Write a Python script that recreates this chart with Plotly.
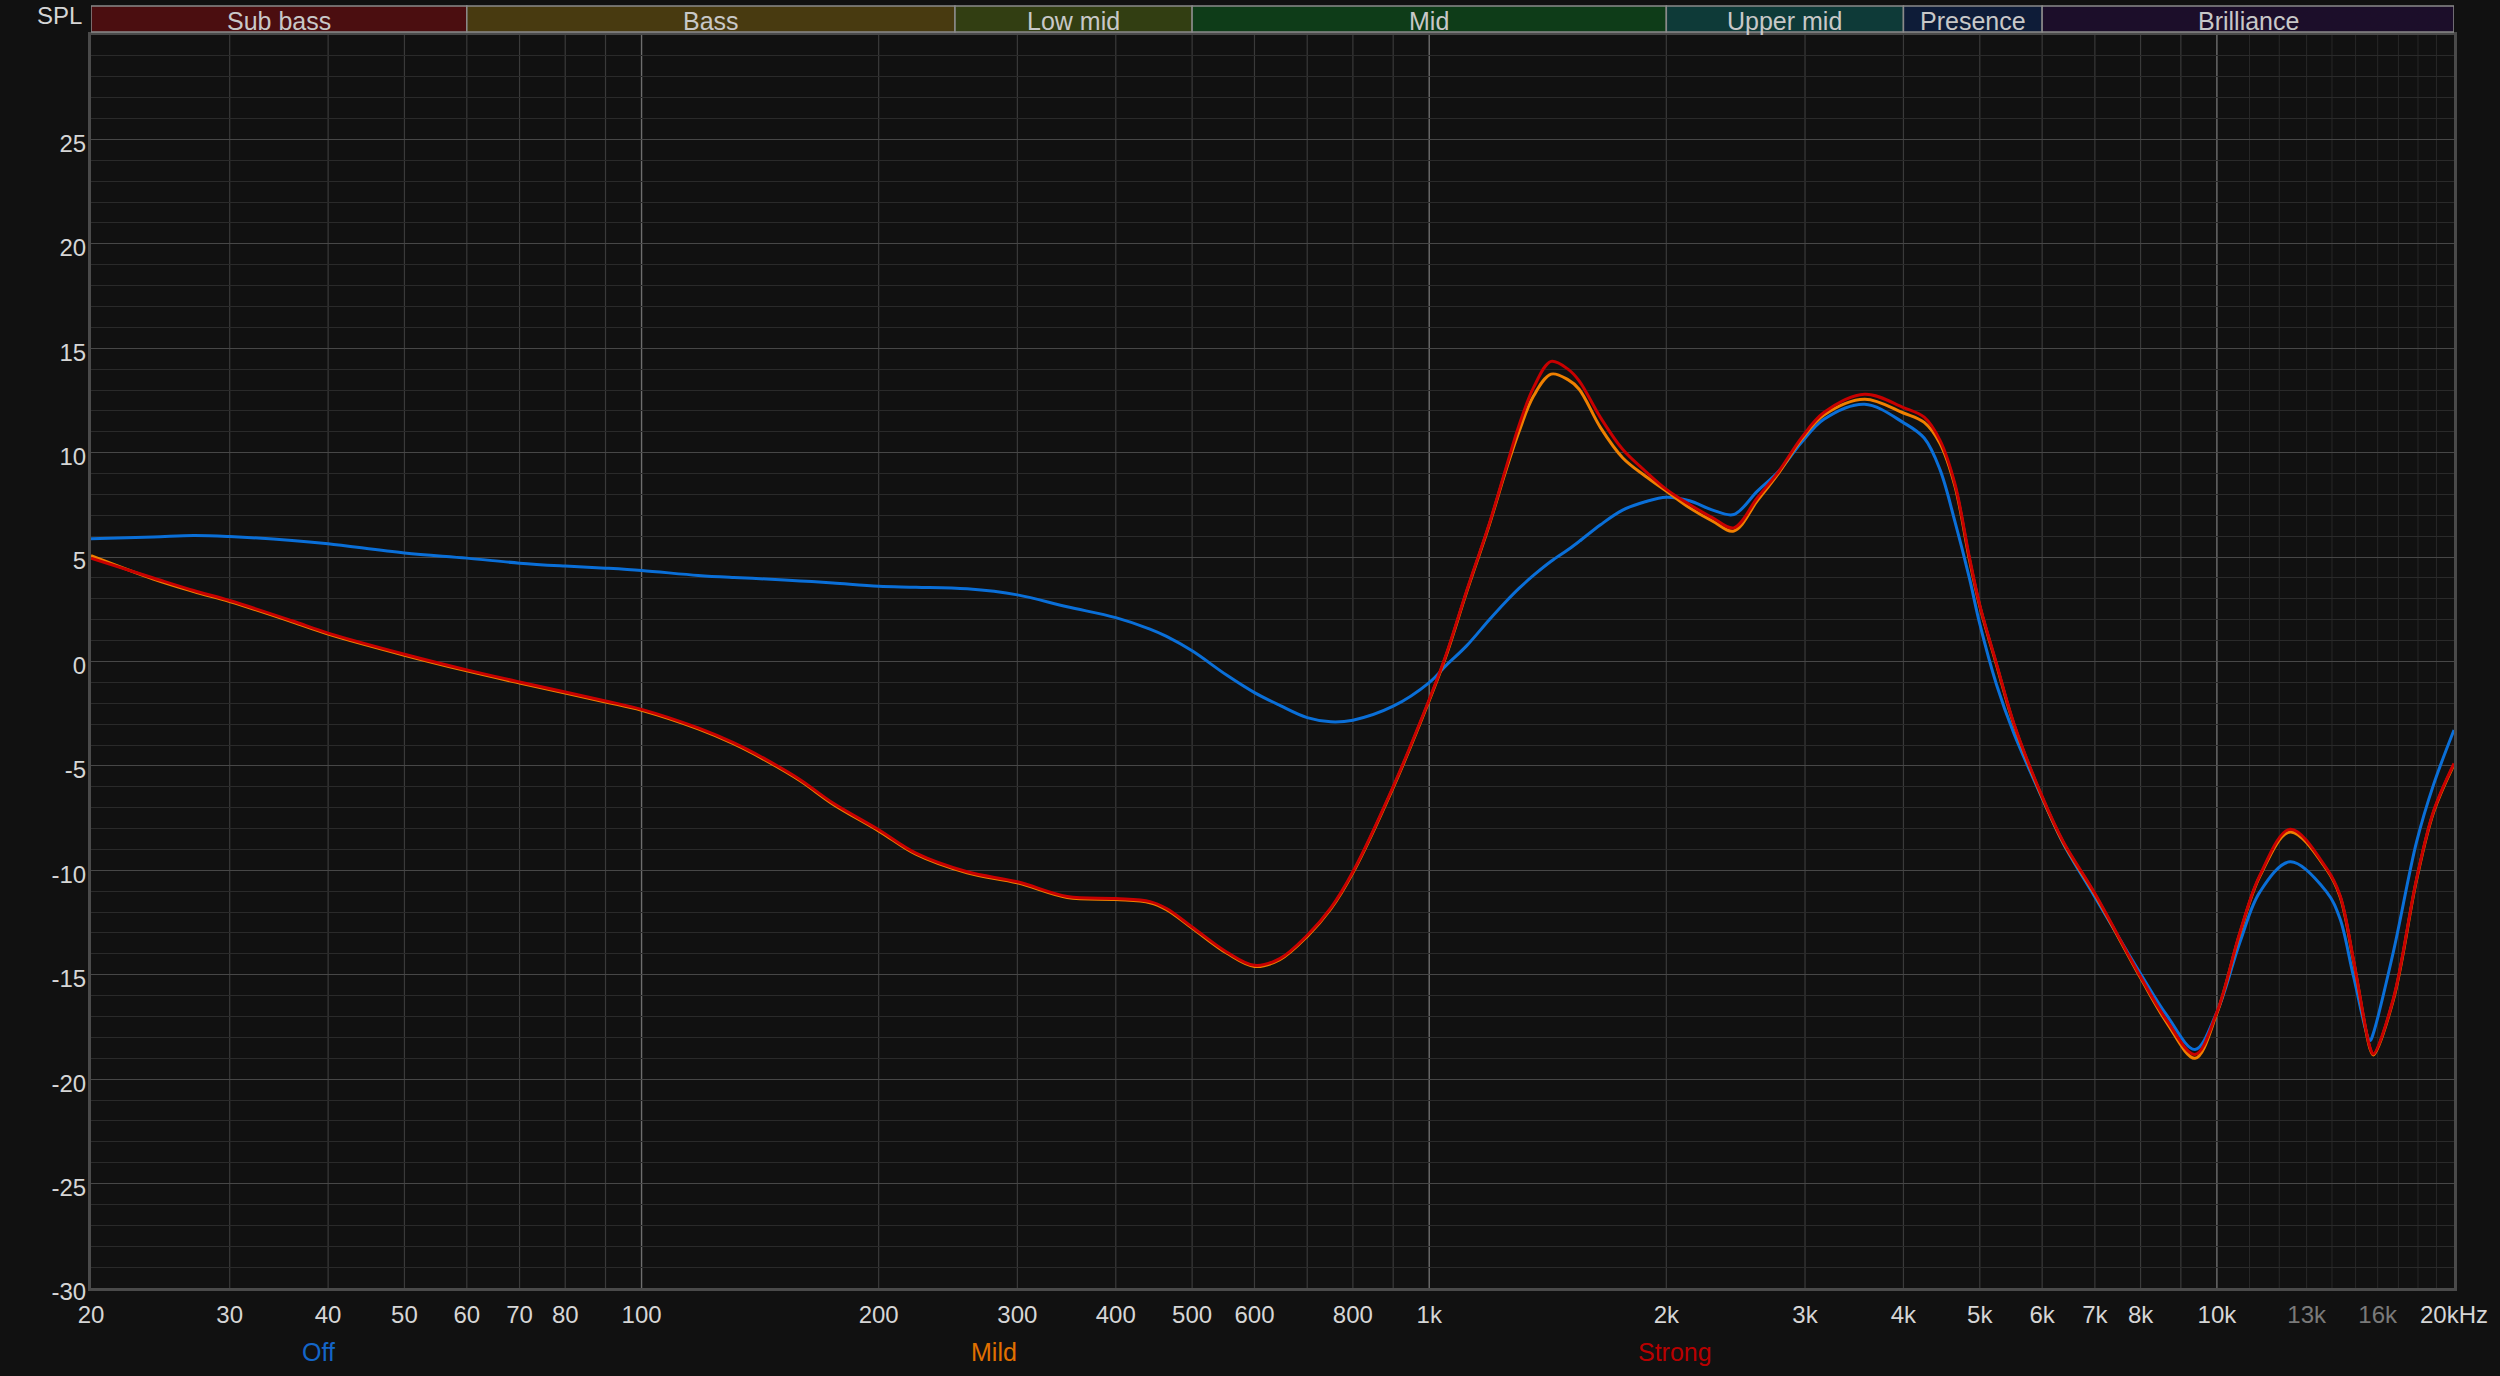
import math
import plotly.graph_objects as go

# ---------------- data ----------------
FREQ = [20, 24, 27, 30, 36, 40, 50, 60, 70, 80, 90, 100, 118, 131, 144, 159, 175, 200, 223, 259,
        300, 347, 400, 442, 464, 500, 553, 600, 646, 700, 750, 800, 900, 1000, 1050, 1116, 1192, 1250, 1300, 1356,
        1428, 1500, 1550, 1650, 1760, 1880, 2000, 2140, 2290, 2436, 2610, 2780, 2970, 3170, 3570, 4000, 4250, 4450, 4650, 4850,
        5000, 5250, 5520, 6000, 6380, 7000, 8000, 8640, 9380, 10000, 10700, 11340, 12390, 13780, 14330, 14900, 15650, 15800, 16750, 17930,
        18830, 20000]

OFF = [5.88, 5.96, 6.03, 5.98, 5.80, 5.64, 5.20, 4.95, 4.71, 4.57, 4.47, 4.36, 4.12, 4.02, 3.95, 3.86, 3.76, 3.60, 3.56, 3.48,
       3.19, 2.62, 2.10, 1.55, 1.20, 0.51, -0.65, -1.49, -2.10, -2.69, -2.89, -2.81, -2.14, -1.01, -0.20, 0.76, 2.00, 2.85, 3.50, 4.12,
       4.80, 5.35, 5.75, 6.55, 7.25, 7.65, 7.87, 7.70, 7.25, 7.04, 8.16, 9.12, 10.50, 11.60, 12.32, 11.44, 10.70, 9.20, 6.70, 4.00,
       1.80, -1.10, -3.41, -6.54, -8.70, -11.27, -14.95, -16.95, -18.58, -16.79, -13.43, -11.03, -9.59, -11.03, -12.31, -15.03, -18.15, -17.80, -13.91, -8.63,
       -5.92, -3.28]

MILD = [5.07, 3.95, 3.35, 2.87, 1.90, 1.31, 0.30, -0.45, -1.03, -1.51, -1.94, -2.34, -3.23, -3.95, -4.75, -5.71, -6.83, -8.11, -9.23, -10.12,
        -10.60, -11.30, -11.40, -11.55, -11.88, -12.76, -13.96, -14.60, -14.28, -13.16, -11.85, -10.12, -6.04, -1.87, 0.25, 3.35, 6.55, 9.10, 11.00, 12.70,
        13.76, 13.50, 13.04, 11.20, 9.76, 8.88, 8.16, 7.36, 6.72, 6.25, 7.70, 9.05, 10.65, 11.80, 12.56, 11.90, 11.45, 10.45, 8.40, 4.90,
        2.65, -0.15, -2.98, -6.51, -8.67, -11.16, -15.15, -17.30, -19.00, -16.84, -13.00, -10.28, -8.16, -9.96, -11.24, -14.28, -18.55, -18.84, -16.20, -10.44,
        -7.24, -4.93]

STRONG = [4.95, 4.00, 3.40, 2.92, 1.95, 1.36, 0.35, -0.40, -0.98, -1.46, -1.89, -2.29, -3.18, -3.90, -4.70, -5.66, -6.78, -8.06, -9.18, -10.07,
          -10.55, -11.25, -11.35, -11.50, -11.83, -12.71, -13.91, -14.55, -14.23, -13.11, -11.80, -10.07, -5.99, -1.82, 0.30, 3.40, 6.60, 9.20, 11.30, 13.10,
          14.37, 14.00, 13.44, 11.68, 10.16, 9.12, 8.24, 7.52, 6.88, 6.40, 7.84, 9.12, 10.72, 11.92, 12.80, 12.16, 11.70, 10.60, 8.50, 5.00,
          2.70, -0.10, -2.93, -6.46, -8.62, -11.11, -15.10, -17.20, -18.82, -16.79, -12.95, -10.23, -8.03, -9.91, -11.19, -14.23, -18.50, -18.79, -16.15, -10.39,
          -7.19, -4.88]

SERIES_NAMES = ["Off", "Mild", "Strong"]
SERIES_COLORS = ["#0a6fd8", "#f08000", "#c80000"]
LABEL_COLORS = ["#1466c8", "#e07000", "#b80000"]

X_TICK_VALS = [20, 30, 40, 50, 60, 70, 80, 100, 200, 300, 400, 500, 600, 800, 1000, 2000, 3000, 4000,
               5000, 6000, 7000, 8000, 10000, 13000, 16000, 20000]
X_TICK_TEXT = ["20", "30", "40", "50", "60", "70", "80", "100", "200", "300", "400", "500", "600", "800",
               "1k", "2k", "3k", "4k", "5k", "6k", "7k", "8k", "10k", "13k", "16k", "20kHz"]
X_TICK_DIM = ["13k", "16k"]

Y_TICK_VALS = [-30, -25, -20, -15, -10, -5, 0, 5, 10, 15, 20, 25]
Y_TICK_TEXT = ["-30", "-25", "-20", "-15", "-10", "-5", "0", "5", "10", "15", "20", "25"]

GRID_MAJOR = [100, 1000, 10000]
GRID_MID = [30, 40, 50, 60, 70, 80, 90, 200, 300, 400, 500, 600, 700, 800, 900,
            2000, 3000, 4000, 5000, 6000, 7000, 8000, 9000]
GRID_MINOR = [11000, 12000, 13000, 14000, 15000, 16000, 17000, 18000, 19000]

BAND_NAMES = ["Sub bass", "Bass", "Low mid", "Mid", "Upper mid", "Presence", "Brilliance"]
BAND_EDGES = [20, 60, 250, 500, 2000, 4000, 6000, 20000]
BAND_COLORS = ["#4b0e10", "#483a10", "#323e12", "#0e3c18", "#0e3a38", "#0e1c38", "#1c0e2a"]

# ---------------- figure ----------------
W, H = 2500, 1376
ML, MR, MT, MB = 91, 46, 35, 88
PH = H - MT - MB
PW = W - ML - MR
BG = "#111111"
FONT = "Liberation Sans, Arial, sans-serif"

fig = go.Figure()
for name, vals, col in zip(SERIES_NAMES, [OFF, MILD, STRONG], SERIES_COLORS):
    fig.add_trace(go.Scatter(x=FREQ, y=vals, mode="lines", name=name,
                             line=dict(color=col, width=3, shape="spline", smoothing=1.0),
                             showlegend=False, hoverinfo="x+y+name"))

shapes = []
for freqs, col, w in [(GRID_MID, "#3a3a3a", 1.2), (GRID_MINOR, "#282828", 1), (GRID_MAJOR, "#6e6e6e", 1.4)]:
    for f in freqs:
        shapes.append(dict(type="line", xref="x", yref="paper", x0=f, x1=f, y0=0, y1=1,
                           line=dict(color=col, width=w), layer="below"))

def py2paper(py):
    return (H - MB - py) / PH

band_y0 = py2paper(32)
band_y1 = py2paper(6)
for i, (nm, col) in enumerate(zip(BAND_NAMES, BAND_COLORS)):
    shapes.append(dict(type="rect", xref="x", yref="paper", x0=BAND_EDGES[i], x1=BAND_EDGES[i + 1],
                       y0=band_y0, y1=band_y1, fillcolor=col, line=dict(color="#8a8a8a", width=1.5),
                       layer="above"))

annotations = []
for i, nm in enumerate(BAND_NAMES):
    xc = (math.log10(BAND_EDGES[i]) + math.log10(BAND_EDGES[i + 1])) / 2
    annotations.append(dict(text=nm, x=xc, xref="x", y=py2paper(21), yref="paper",
                            showarrow=False, xanchor="center", yanchor="middle",
                            font=dict(family=FONT, size=25, color="#c8c8c8")))

annotations.append(dict(text="SPL", x=(84 - ML) / PW, xref="paper", y=py2paper(15), yref="paper",
                        showarrow=False, xanchor="right", yanchor="middle",
                        font=dict(family=FONT, size=24, color="#d6d6d6")))

legend_px = [318, 994, 1675]
for nm, col, px in zip(SERIES_NAMES, LABEL_COLORS, legend_px):
    annotations.append(dict(text=nm, x=(px - ML) / PW, xref="paper", y=py2paper(1352), yref="paper",
                            showarrow=False, xanchor="center", yanchor="middle",
                            font=dict(family=FONT, size=25, color=col)))

tick_text = [f'<span style="color:#7a7a7a">{t}</span>' if t in X_TICK_DIM else t for t in X_TICK_TEXT]

fig.update_layout(
    width=W, height=H,
    margin=dict(l=ML, r=MR, t=MT, b=MB, pad=0),
    paper_bgcolor=BG, plot_bgcolor=BG,
    font=dict(family=FONT, size=24, color="#d6d6d6"),
    shapes=shapes, annotations=annotations,
    xaxis=dict(type="log", range=[math.log10(20), math.log10(20000)],
               tickvals=X_TICK_VALS, ticktext=tick_text, showgrid=False, zeroline=False,
               showline=True, mirror=True, linecolor="#4a4a4a", linewidth=3,
               ticks="", ticklabelstandoff=3, tickfont=dict(family=FONT, size=24, color="#d6d6d6")),
    yaxis=dict(range=[-30, 30], tickvals=Y_TICK_VALS, ticktext=Y_TICK_TEXT,
               showgrid=True, gridcolor="#474747", gridwidth=1.2,
               zeroline=False, showline=True, mirror=True, linecolor="#4a4a4a", linewidth=3,
               ticks="", ticklabelstandoff=-3, ticklabelshift=4,
               tickfont=dict(family=FONT, size=24, color="#d6d6d6"),
               minor=dict(dtick=1, tick0=0, showgrid=True, gridcolor="#2a2a2a", gridwidth=1)),
)

page_js = ("document.body.style.margin='0';document.body.style.padding='0';"
           "document.body.style.background='#111111';"
           "document.documentElement.style.background='#111111';")
fig.write_html("out.html", post_script=page_js, config={"displayModeBar": False})
